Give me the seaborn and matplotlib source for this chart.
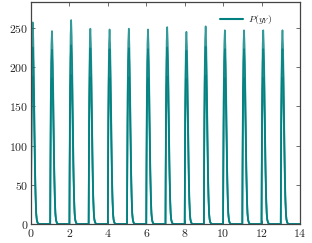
import numpy as np
import pandas as pd
import seaborn as sns
import matplotlib
matplotlib.use("Agg")
import matplotlib.pyplot as plt

# one spike: offset after each integer and relative height
spike_t = [0.00, 0.01, 0.03, 0.06, 0.09, 0.12, 0.15, 0.18, 0.21, 0.24, 0.27, 0.30, 0.34, 0.40, 0.99]
spike_v = [0.00, 0.30, 0.70, 0.93, 1.00, 0.92, 0.75, 0.52, 0.30, 0.15, 0.06, 0.025, 0.008, 0.0, 0.0]

# peak heights of each spike (x = 0..13), three overlapping curves
peaks_a = [257, 246, 260, 249, 248, 249, 248, 251, 245, 252, 247, 247, 247, 247]
peaks_b = [225, 222, 228, 224, 223, 224, 223, 225, 221, 226, 223, 223, 223, 223]
peaks_c = [188, 186, 190, 187, 186, 187, 186, 188, 185, 189, 186, 186, 186, 186]

xticks = [0, 2, 4, 6, 8, 10, 12, 14]
yticks = [0, 50, 100, 150, 200, 250]

rows = []
for name, peaks in [("a", peaks_a), ("b", peaks_b), ("c", peaks_c)]:
    for k, p in enumerate(peaks):
        for t, v in zip(spike_t, spike_v):
            rows.append((name, k + t, p * v))
df = pd.DataFrame(rows, columns=["series", "x", "y"])

sns.set_style("ticks")
plt.rcParams["font.family"] = "serif"
plt.rcParams["font.serif"] = ["cmr10", "DejaVu Serif"]
plt.rcParams["mathtext.fontset"] = "cm"
plt.rcParams["axes.formatter.use_mathtext"] = True

fig = plt.figure(figsize=(3.12, 2.43), dpi=100)
ax = fig.add_axes([0.0994, 0.078, 0.862, 0.914])

sns.lineplot(data=df, x="x", y="y", hue="series", palette=["#008080"] * 3,
             sort=False, estimator=None, lw=1.2, alpha=0.8, ax=ax, legend=False)

ax.set_xlim(0, 14)
ax.set_ylim(0, 283)
ax.set_xticks(xticks)
ax.set_yticks(yticks)
ax.set_xticklabels([f"${v}$" for v in xticks])
ax.set_yticklabels([f"${v}$" for v in yticks])
ax.set_xlabel("")
ax.set_ylabel("")
ax.tick_params(direction="in", top=True, right=True, length=3, width=0.6,
               labelsize=8.5, pad=2, color="#555555")
for s in ax.spines.values():
    s.set_color("#444444")
    s.set_linewidth(0.9)

ax.plot([], [], color="#008080", lw=1.5, label="$P(y_Y)$")
ax.legend(loc="upper right", frameon=False, fontsize=7, handlelength=2.4,
          handletextpad=0.5, borderaxespad=0.5, bbox_to_anchor=(0.93, 0.99))

fig.savefig("out.png", dpi=100)
